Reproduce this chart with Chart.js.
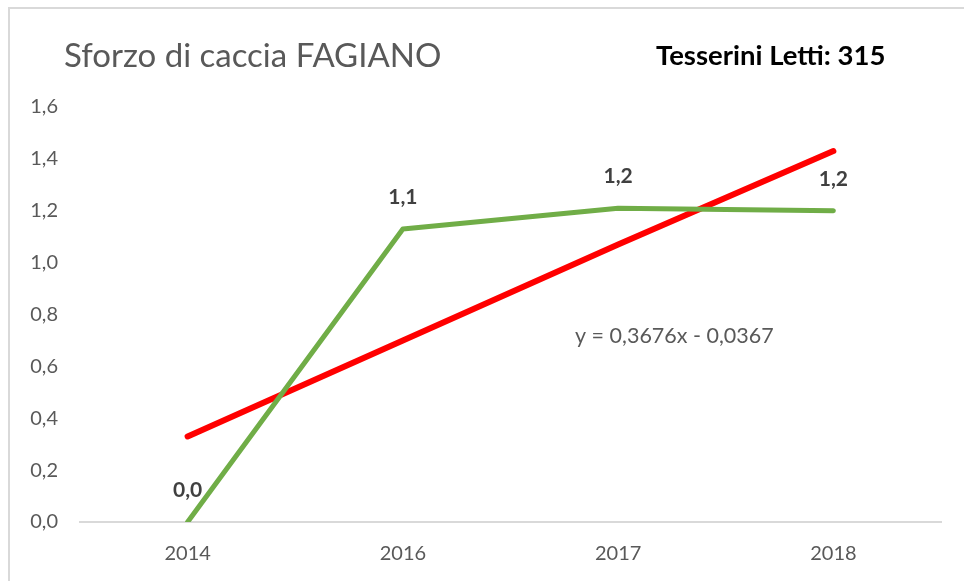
<!DOCTYPE html>
<html>
<head>
<meta charset="utf-8">
<script src="https://cdn.jsdelivr.net/npm/chart.js@4"></script>
<style>
    body { margin: 0; background: #fff; }
    #wrap { width: 964px; height: 581px; }
</style>
</head>
<body>
<div id="wrap"><canvas id="sforzo-canvas"></canvas></div>
<script>
let years = ['2014', '2016', '2017', '2018'];
let sforzo = [0.0, 1.13, 1.21, 1.20];
let trendline = [0.33, 0.70, 1.07, 1.43];
let yTicks = [0, 0.2, 0.4, 0.6, 0.8, 1.0, 1.2, 1.4, 1.6];
let titleText = 'Sforzo di caccia FAGIANO';
let noteText = 'Tesserini Letti: 315';
let equationText = 'y = 0,3676x - 0,0367';

function formatComma(value) {
    return Number(value).toFixed(1).replace('.', ',');
}

let extrasPlugin = {
    id: 'extras',
    afterDraw(chart) {
        let ctx = chart.ctx;
        ctx.save();
        // frame
        ctx.strokeStyle = '#d9d9d9';
        ctx.lineWidth = 2;
        ctx.beginPath();
        ctx.moveTo(9, 581);
        ctx.lineTo(9, 8);
        ctx.lineTo(964, 8);
        ctx.stroke();

        // title
        ctx.fillStyle = '#595959';
        ctx.font = '33px Lato';
        ctx.textBaseline = 'middle';
        ctx.textAlign = 'left';
        ctx.fillText(titleText, 64, 56);

        ctx.fillStyle = '#000000';
        ctx.font = 'bold 27.5px Lato';
        ctx.fillText(noteText, 656, 56);

        // trendline equation
        ctx.fillStyle = '#595959';
        ctx.font = '21.5px Lato';
        ctx.fillText(equationText, 575, 336);

        // data labels
        let meta = chart.getDatasetMeta(0);
        ctx.fillStyle = '#404040';
        ctx.font = 'bold 21px Lato';
        ctx.textAlign = 'center';
        meta.data.forEach((pt, i) => {
            ctx.fillText(formatComma(sforzo[i]), pt.x, pt.y - 32);
        });
        ctx.restore();
    }
};

let canvasContext = document.getElementById('sforzo-canvas').getContext('2d');
new Chart(canvasContext, {
    type: 'line',
    data: {
        labels: years,
        datasets: [{
            label: 'Sforzo',
            data: sforzo,
            borderColor: '#70ad47',
            borderWidth: 5,
            borderCapStyle: 'round',
            borderJoinStyle: 'round',
            pointRadius: 0,
            tension: 0
        }, {
            label: 'Lineare',
            data: trendline,
            borderColor: '#ff0000',
            borderWidth: 6,
            borderCapStyle: 'round',
            pointRadius: 0,
            tension: 0
        }]
    },
    options: {
        responsive: true,
        maintainAspectRatio: false,
        animation: false,
        layout: { padding: { left: 0, right: 23, top: 107, bottom: 0 } },
        plugins: {
            legend: { display: false },
            tooltip: { enabled: false }
        },
        scales: {
            x: {
                offset: true,
                grid: { display: false, drawTicks: false },
                border: { display: true, color: '#d9d9d9', width: 2 },
                ticks: {
                    padding: 20,
                    color: '#595959',
                    font: { family: 'Lato', size: 20 }
                },
                afterFit: s => { s.height = 59; }
            },
            y: {
                min: 0,
                max: 1.6,
                afterBuildTicks: s => { s.ticks = yTicks.map(v => ({ value: v })); },
                grid: { display: false, drawTicks: false },
                border: { display: false },
                ticks: {
                    padding: 22,
                    color: '#595959',
                    font: { family: 'Lato', size: 20 },
                    callback: v => formatComma(v)
                },
                afterFit: s => { s.width = 80; }
            }
        }
    },
    plugins: [extrasPlugin]
});
</script>
</body>
</html>
